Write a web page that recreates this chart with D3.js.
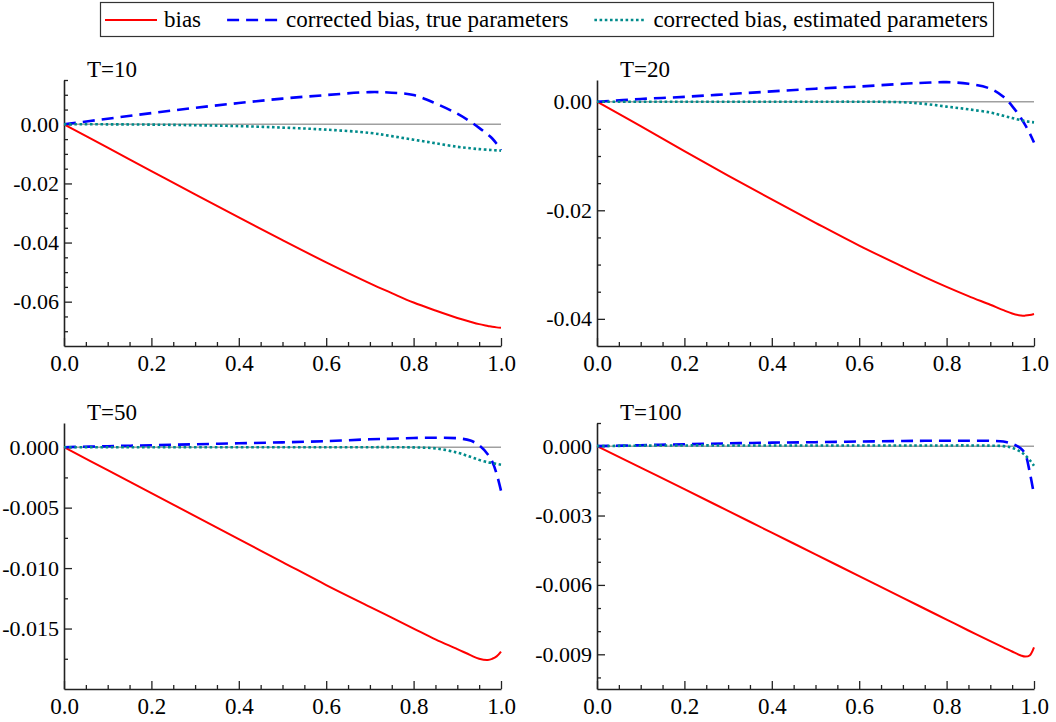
<!DOCTYPE html>
<html><head><meta charset="utf-8">
<script src="https://cdn.jsdelivr.net/npm/d3@7"></script>
<style>
html,body{margin:0;padding:0;background:#fff;}
svg text{font-family:"Liberation Serif","Tinos","Times New Roman","Times","Nimbus Roman","DejaVu Serif",serif;}
</style></head>
<body><svg id="chart" width="1056" height="722"></svg>
<script>
// shared x grid (fraction)
const xGrid = [0,0.1,0.2,0.3,0.4,0.5,0.6,0.7,0.75,0.8,0.85,0.9,0.93,0.95,0.97,0.98,0.99,1.0];

// T=10
const bias10      = [0,-0.0079,-0.0158,-0.0237,-0.0315,-0.0392,-0.0467,-0.0538,-0.0571,-0.0603,-0.0630,-0.0655,-0.0668,-0.0676,-0.0682,-0.0685,-0.0687,-0.0688];
const corrTrue10  = [0,0.0019,0.0038,0.0056,0.0072,0.0087,0.0099,0.0109,0.0107,0.0099,0.0071,0.0036,0.0009,-0.0012,-0.0035,-0.0048,-0.0066,-0.0088];
const corrEst10   = [0,0,-0.0001,-0.0003,-0.0006,-0.0011,-0.0018,-0.0029,-0.0040,-0.0052,-0.0064,-0.0076,-0.0081,-0.0084,-0.0086,-0.0087,-0.0088,-0.0089];
// T=20
const bias20      = [0,-0.0045,-0.0091,-0.0136,-0.0180,-0.0223,-0.0265,-0.0304,-0.0323,-0.0341,-0.0358,-0.0374,-0.0384,-0.0390,-0.0394,-0.0394,-0.0393,-0.0391];
const corrTrue20  = [0,0.0005,0.0009,0.0014,0.0019,0.0024,0.0028,0.0033,0.0035,0.0036,0.0033,0.0024,0.0009,-0.0008,-0.0030,-0.0043,-0.0058,-0.0075];
const corrEst20   = [0,0,0,0,0,0,0,-0.0001,-0.0004,-0.0009,-0.0014,-0.0020,-0.0026,-0.0030,-0.0034,-0.0036,-0.0037,-0.0038];
// T=50
const bias50      = [0,-0.0019,-0.0038,-0.0057,-0.0076,-0.0095,-0.0114,-0.0132,-0.0141,-0.0150,-0.0159,-0.0167,-0.0172,-0.0175,-0.0176,-0.0175,-0.0173,-0.0169];
const corrTrue50  = [0,0.00008,0.00016,0.00024,0.00032,0.0004,0.0005,0.00065,0.0007,0.00076,0.00078,0.00074,0.00055,0.00015,-0.0006,-0.0012,-0.0022,-0.0036];
const corrEst50   = [0,0,0,0,0,0,0,0,0,-0.00002,-0.0001,-0.00045,-0.0008,-0.00105,-0.00125,-0.0013,-0.00138,-0.00145];
// T=100
const bias100     = [0,-0.00093,-0.00186,-0.0028,-0.00374,-0.00468,-0.00562,-0.00656,-0.00703,-0.0075,-0.00797,-0.00843,-0.0087,-0.00888,-0.00905,-0.0091,-0.00905,-0.0087];
const corrTrue100 = [0,0.00004,0.00008,0.00012,0.00015,0.00017,0.0002,0.00022,0.00023,0.00023,0.00023,0.00023,0.0002,0.0001,-0.0001,-0.00035,-0.0011,-0.0021];
const corrEst100  = [0,0.00002,0.00003,0.00003,0.00003,0.00003,0.00003,0.00003,0.00003,0.00003,0.00003,0.00002,0,-0.00007,-0.00025,-0.0004,-0.0006,-0.00085];

const titles = ["T=10","T=20","T=50","T=100"];
const seriesNames = ["bias","corrected bias, true parameters","corrected bias, estimated parameters"];
const xTicksMajor = [0,0.2,0.4,0.6,0.8,1.0];
const xTickLabels = ["0.0","0.2","0.4","0.6","0.8","1.0"];
const yDomains = [[-0.075,0.015],[-0.045,0.004],[-0.02,0.002],[-0.0105,0.001]];
const yMajorTicks = [[-0.06,-0.04,-0.02,0],[-0.04,-0.02,0],[-0.015,-0.01,-0.005,0],[-0.009,-0.006,-0.003,0]];
const yTickLabels = [["-0.06","-0.04","-0.02","0.00"],["-0.04","-0.02","0.00"],["-0.015","-0.010","-0.005","0.000"],["-0.009","-0.006","-0.003","0.000"]];
const yMinorSteps = [0.005,0.005,0.0025,0.001];

const panelsData = [
  [bias10,corrTrue10,corrEst10],
  [bias20,corrTrue20,corrEst20],
  [bias50,corrTrue50,corrEst50],
  [bias100,corrTrue100,corrEst100]
];

const styles = [
  {color:"#ff0000", width:2, dash:null},
  {color:"#0000ff", width:2.6, dash:"12,7"},
  {color:"#008b8b", width:2.6, dash:"2.6,2.6"}
];

const FONT = '"Liberation Serif","Tinos","Times New Roman","Times","Nimbus Roman","DejaVu Serif",serif';
const svg = d3.select("#chart");
const FS = 23, FSY = 22;
const boxes = [
  {x0:64,x1:501,y0:80,y1:346},
  {x0:597,x1:1034,y0:80,y1:346},
  {x0:64,x1:501,y0:423,y1:689},
  {x0:597,x1:1034,y0:423,y1:689}
];
const axisColor = "#222";

boxes.forEach((b,i)=>{
  const g = svg.append("g");
  const x = d3.scaleLinear().domain([0,1]).range([b.x0,b.x1]);
  const y = d3.scaleLinear().domain(yDomains[i]).range([b.y1,b.y0]);

  const step = yMinorSteps[i];
  const yMinor = [];
  const [lo,hi] = yDomains[i];
  for (let k=Math.ceil(lo/step-1e-9); k*step<=hi+1e-12; k++){
    const v = k*step;
    if (v>lo+1e-12 && !yMajorTicks[i].some(m=>Math.abs(m-v)<1e-9)) yMinor.push(v);
  }
  const xMinor = d3.range(0,21).map(k=>k*0.05).filter(v=>!xTicksMajor.some(m=>Math.abs(m-v)<1e-9));

  g.append("line").attr("x1",x(0)).attr("x2",x(1)).attr("y1",y(0)).attr("y2",y(0))
    .attr("stroke","#a0a0a0").attr("stroke-width",1.5);

  const ya = g.append("g").attr("transform",`translate(${b.x0},0)`)
    .call(d3.axisLeft(y).tickValues(yMajorTicks[i]).tickSizeInner(-8).tickSizeOuter(0).tickPadding(5)
      .tickFormat((d,j)=>yTickLabels[i][j]));
  g.append("g").attr("transform",`translate(${b.x0},0)`)
    .call(d3.axisLeft(y).tickValues(yMinor).tickSizeInner(-4).tickSizeOuter(0).tickFormat(""))
    .call(s=>s.select(".domain").remove());
  const xa = g.append("g").attr("transform",`translate(0,${b.y1})`)
    .call(d3.axisBottom(x).tickValues(xTicksMajor).tickSizeInner(-8).tickSizeOuter(0).tickPadding(9)
      .tickFormat((d,j)=>xTickLabels[j]));
  g.append("g").attr("transform",`translate(0,${b.y1})`)
    .call(d3.axisBottom(x).tickValues(xMinor).tickSizeInner(-4).tickSizeOuter(0).tickFormat(""))
    .call(s=>s.select(".domain").remove());

  g.selectAll("g").attr("font-family",FONT);
  g.selectAll(".domain").attr("stroke",axisColor).attr("stroke-width",1.6);
  g.selectAll(".tick line").attr("stroke",axisColor).attr("stroke-width",1.3);
  g.selectAll(".tick text").attr("fill","#000").attr("font-family",FONT);
  xa.selectAll(".tick text").attr("font-size",FS);
  ya.selectAll(".tick text").attr("font-size",FSY);

  g.append("text").attr("x",b.x0+23).attr("y",b.y0-3).attr("font-size",FS).attr("fill","#000")
    .attr("font-family",FONT).text(titles[i]);

  const line = d3.line().x((d,j)=>x(xGrid[j])).y(d=>y(d)).curve(d3.curveCatmullRom.alpha(0.5));
  panelsData[i].forEach((vals,s)=>{
    const p = g.append("path").datum(vals).attr("d",line).attr("fill","none")
      .attr("stroke",styles[s].color).attr("stroke-width",styles[s].width);
    if (styles[s].dash) p.attr("stroke-dasharray",styles[s].dash);
  });
});

// legend
const lg = svg.append("g");
const boxL = 100, boxR = 993, boxT = 2, boxB = 36;
lg.append("rect").attr("x",boxL+0.5).attr("y",boxT+0.5).attr("width",boxR-boxL).attr("height",boxB-boxT)
  .attr("fill","#fff").attr("stroke","#333").attr("stroke-width",1.2);
const texts = seriesNames.map(n=>lg.append("text").attr("font-size",FS).attr("fill","#000")
  .attr("font-family",FONT).text(n));
const widths = texts.map(t=>t.node().getComputedTextLength());
const sampleLen = 52, gapST = 7, pad = 5;
const free = (boxR-boxL) - 2*pad - 3*sampleLen - 3*gapST - d3.sum(widths);
const gapTS = free/2;
let cx = boxL + pad;
const cy = (boxT+boxB)/2+1;
seriesNames.forEach((n,s)=>{
  const l = lg.append("line").attr("x1",cx).attr("x2",cx+sampleLen).attr("y1",cy).attr("y2",cy)
    .attr("stroke",styles[s].color).attr("stroke-width",styles[s].width);
  if (styles[s].dash) l.attr("stroke-dasharray",styles[s].dash);
  cx += sampleLen + gapST;
  texts[s].attr("x",cx).attr("y",cy+7);
  cx += widths[s] + gapTS;
});
</script></body></html>
